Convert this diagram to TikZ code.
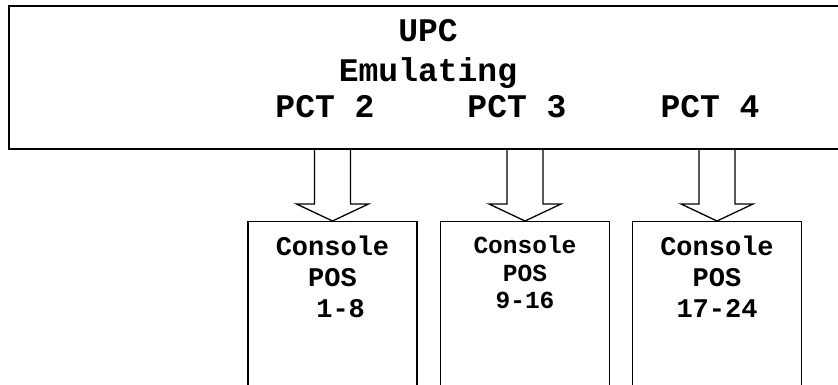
\documentclass[tikz,border=0pt]{standalone}
\usepackage{fontspec}
\setmonofont{Liberation Mono}
\usetikzlibrary{calc}

\begin{document}
\begin{tikzpicture}[x=1pt, y=-1pt,
    topbox/.style={draw, line width=2pt, minimum width=860pt, minimum height=143pt, anchor=north west, inner sep=0pt},
    console/.style={draw, line width=1.3pt, minimum width=169pt, minimum height=200pt, anchor=north, inner sep=0pt},
    ctext/.style={font=\ttfamily\bfseries\fontsize{27}{31}\selectfont, align=center, anchor=north, inner sep=0pt},
    pct/.style={font=\ttfamily\bfseries\fontsize{33}{40}\selectfont, anchor=base, inner sep=0pt},
    blockarrow/.style={draw, line width=1.3pt, line join=miter}]

    \useasboundingbox (0,0) rectangle (838,385);
    \clip (0,0) rectangle (838,385);

    % UPC box
    \node[topbox] (upc) at (8,5) {};
    \node[pct, anchor=north, align=center] (title) at (428,19) {UPC\\Emulating};
    \node[pct] (pct2) at (325,118) {PCT 2};
    \node[pct] (pct3) at (517,118) {PCT 3};
    \node[pct] (pct4) at (710,118) {PCT 4};

    % consoles
    \node[console] (c1) at (332.5,221) {};
    \node[console] (c2) at (525,221) {};
    \node[console] (c3) at (717,221) {};

    \node[ctext] (t1) at (332.5,236) {Console\\POS\\\hphantom{0}1-8};
    \node[ctext, font=\ttfamily\bfseries\fontsize{24.5}{27.5}\selectfont] (t2) at (525,236) {Console\\POS\\9-16};
    \node[ctext] (t3) at (717,236) {Console\\POS\\17-24};

    % block arrows
    \foreach \b in {c1,c2,c3}{
        \draw[blockarrow] ($(\b.north |- upc.south)+(-18,0)$) -- ($(\b.north)+(-18,-17)$) -- ++(-18,0)
            -- (\b.north) -- ++(36,-17) -- ++(-18,0) -- ($(\b.north |- upc.south)+(18,0)$);
    }
\end{tikzpicture}
\end{document}
